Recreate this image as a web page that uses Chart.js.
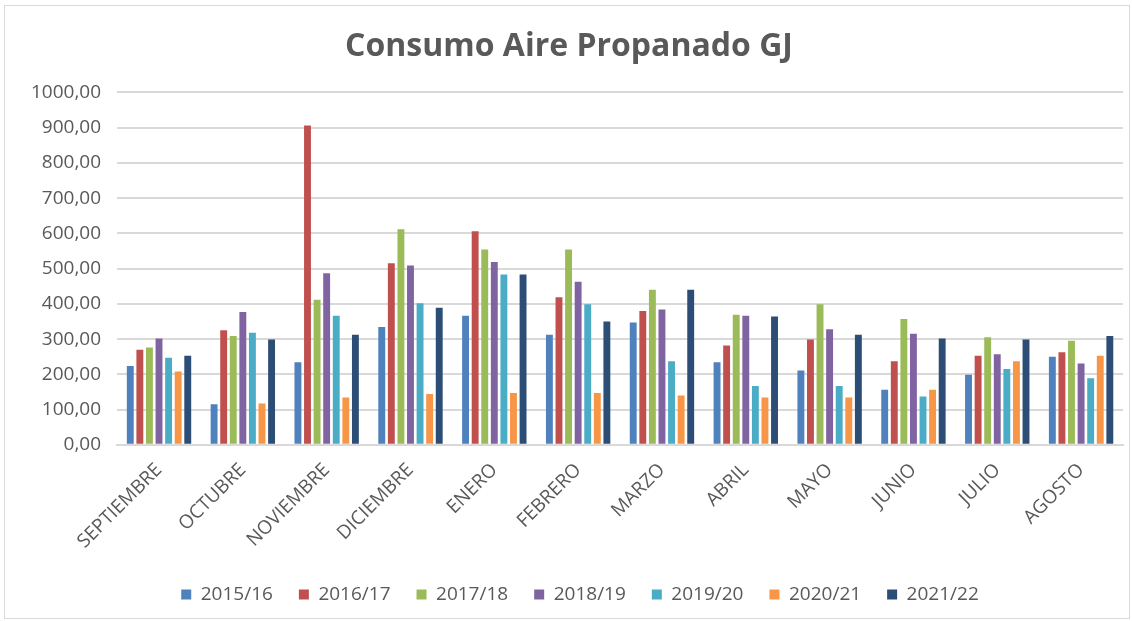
<!DOCTYPE html>
<html>
<head>
<meta charset="utf-8">
<script src="https://cdn.jsdelivr.net/npm/chart.js@4"></script>
<style>
html,body{margin:0;padding:0;background:#fff;}
#wrap{position:absolute;left:4px;top:5px;width:1126px;height:614px;border:1px solid #D9D9D9;box-sizing:border-box;}
canvas{display:block;}
</style>
</head>
<body>
<div id="wrap"><canvas id="c" width="1126" height="614"></canvas></div>
<script>
const categories = ["SEPTIEMBRE","OCTUBRE","NOVIEMBRE","DICIEMBRE","ENERO","FEBRERO","MARZO","ABRIL","MAYO","JUNIO","JULIO","AGOSTO"];
const seriesNames = ["2015/16","2016/17","2017/18","2018/19","2019/20","2020/21","2021/22"];
const s2015_16 = [224,115,234,334,366,312,347,234,211,156,199,250];
const s2016_17 = [270,325,906,515,606,419,380,282,299,237,253,263];
const s2017_18 = [276,309,412,612,554,554,440,369,399,357,305,295];
const s2018_19 = [302,377,487,509,519,463,384,366,328,315,257,231];
const s2019_20 = [247,318,366,402,483,399,237,167,167,137,215,189];
const s2020_21 = [208,117,134,144,147,147,140,134,134,156,237,253];
const s2021_22 = [253,299,312,389,483,350,440,364,312,302,299,309];
const colors = ["#4F81BD","#C0504D","#9BBB59","#8064A2","#4BACC6","#F79646","#2C4D75"];
const allSeries = [s2015_16,s2016_17,s2017_18,s2018_19,s2019_20,s2020_21,s2021_22];

const FONT = "'Open Sans',sans-serif";
const shiftLegend = {
  id: 'shiftLegend',
  beforeDraw(chart) {
    const lg = chart.legend;
    if (lg && !lg._shifted) {
      const orig = lg.draw;
      lg.draw = function(...a) {
        const ctx = chart.ctx;
        ctx.save(); ctx.translate(11, 0); orig.apply(this, a); ctx.restore();
      };
      lg._shifted = true;
    }
  }
};
new Chart(document.getElementById('c'), {
  type: 'bar',
  plugins: [shiftLegend],
  data: {
    labels: categories,
    datasets: allSeries.map((d,i)=>({
      label: seriesNames[i],
      data: d,
      backgroundColor: colors[i],
      borderWidth: 0,
      categoryPercentage: 0.8,
      barPercentage: 0.72
    }))
  },
  options: {
    responsive: false,
    animation: false,
    layout: {padding: {left: 10, right: 8, top: 8, bottom: 6}},
    plugins: {
      title: {
        display: true,
        text: 'Consumo Aire Propanado GJ',
        color: '#595959',
        font: {family: FONT, size: 32, weight: 'bold'},
        padding: {top: 14, bottom: 26}
      },
      legend: {
        position: 'bottom',
        labels: {
          color: '#595959',
          font: {family: FONT, size: 19},
          boxWidth: 10, boxHeight: 10,
          padding: 26
        }
      },
      tooltip: {enabled: false}
    },
    scales: {
      x: {
        grid: {display: false},
        border: {color: '#D9D9D9', width: 2},
        ticks: {
          color: '#595959',
          font: {family: FONT, size: 19},
          maxRotation: 45, minRotation: 45,
          padding: 6
        }
      },
      y: {
        min: 0, max: 1000,
        grid: {color: '#D9D9D9', lineWidth: 2, drawTicks: false},
        border: {display: false},
        ticks: {
          stepSize: 100,
          color: '#595959',
          font: {family: FONT, size: 19},
          padding: 16,
          callback: v => v.toFixed(2).replace('.', ',')
        }
      }
    }
  }
});
</script>
</body>
</html>
